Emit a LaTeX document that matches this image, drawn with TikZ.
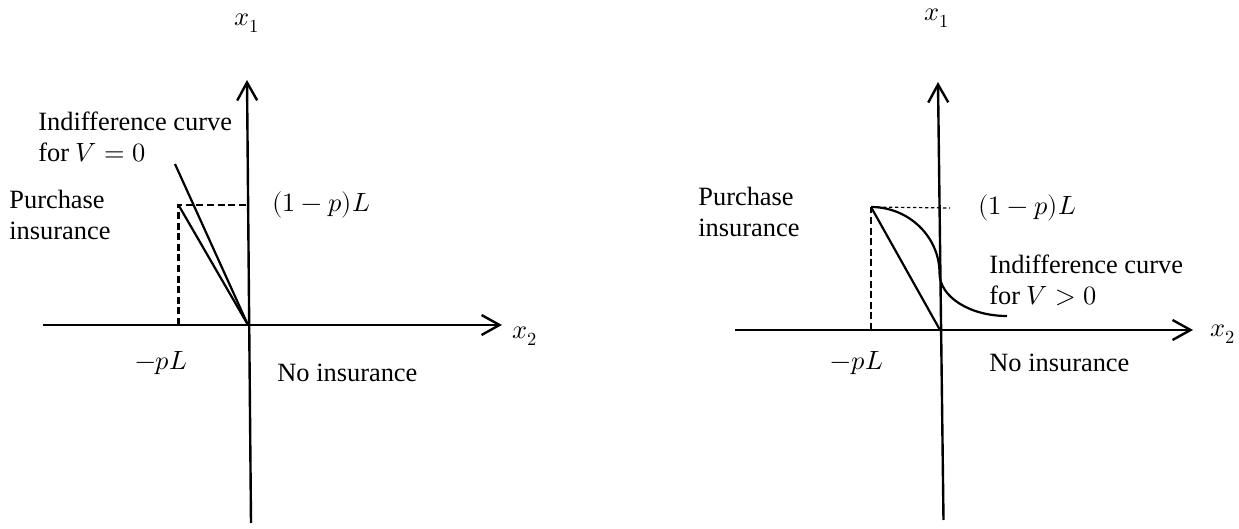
\documentclass[tikz,border=0pt]{standalone}
\usepackage{unicode-math}
\setmainfont{Liberation Serif}
\usetikzlibrary{arrows.meta}

\begin{document}
\begin{tikzpicture}[
    x=0.5pt, y=-0.5pt,
    axis/.style={line width=1.2pt, -{Straight Barb[length=9pt, width=10pt]}},
    plain/.style={line width=1.1pt},
    guide/.style={line width=1.2pt, dash pattern=on 3.5pt off 1.8pt},
    fineguide/.style={line width=0.6pt, dash pattern=on 1.7pt off 1.3pt},
    lbl/.style={inner sep=0pt, font=\fontsize{13.2}{15.5}\selectfont},
    note/.style={lbl, align=left, anchor=west}
]
\useasboundingbox (0,0) rectangle (1239,529);

% left panel: V = 0
\coordinate (oL) at (248,325);
\coordinate (topL) at (247,80);
\coordinate (botL) at (251,523);
\coordinate (wL) at (43,325);
\coordinate (eL) at (502,325);
\coordinate (cornerL) at (178.5,205);
\coordinate (ycutL) at (248,205);
\coordinate (xcutL) at (178.5,325);
\coordinate (icL) at (175,164);

\draw[axis] (botL) -- (topL);
\draw[axis] (wL) -- (eL);
\draw[guide] (xcutL) -- (cornerL) -- (ycutL);
\draw[plain] (cornerL) -- (oL);
\draw[plain] (icL) -- (oL);

\node[lbl] (x1L) at (247,23) {$x_1$};
\node[lbl, anchor=west] (x2L) at (512,336) {$x_2$};
\node[note] (icnoteL) at (38,137) {Indifference curve\\for $V=0$};
\node[note] (buyL) at (9,215) {Purchase\\insurance};
\node[lbl, anchor=west] (payL) at (272,205) {$(1-p)L$};
\node[lbl] (premL) at (161.5,363) {$-pL$};
\node[note] (noneL) at (277,373) {No insurance};

% right panel: V > 0
\coordinate (oR) at (940,330);
\coordinate (topR) at (938,82);
\coordinate (botR) at (943.5,520);
\coordinate (wR) at (735,330);
\coordinate (eR) at (1193,330);
\coordinate (cornerR) at (871,207);
\coordinate (ycutR) at (950,208);
\coordinate (xcutR) at (871,330);
\coordinate (kinkR) at (939.5,273);
\coordinate (endR) at (1007,316);

\draw[axis] (botR) -- (topR);
\draw[axis] (wR) -- (eR);
\draw[guide] (xcutR) -- (cornerR);
\draw[fineguide] (cornerR) -- (ycutR);
\draw[plain] (cornerR) .. controls +(38,0) and +(0,-36) .. (kinkR)
    .. controls +(0,24) and +(-37,0) .. (endR);
\draw[plain] (cornerR) -- (oR);

\node[lbl] (x1R) at (937.5,18) {$x_1$};
\node[lbl, anchor=west] (x2R) at (1210,334) {$x_2$};
\node[note] (buyR) at (698,212) {Purchase\\insurance};
\node[lbl, anchor=west] (payR) at (978,208) {$(1-p)L$};
\node[note] (icnoteR) at (989,280) {Indifference curve\\for $V>0$};
\node[lbl] (premR) at (857,363) {$-pL$};
\node[note] (noneR) at (989,363) {No insurance};
\end{tikzpicture}
\end{document}
